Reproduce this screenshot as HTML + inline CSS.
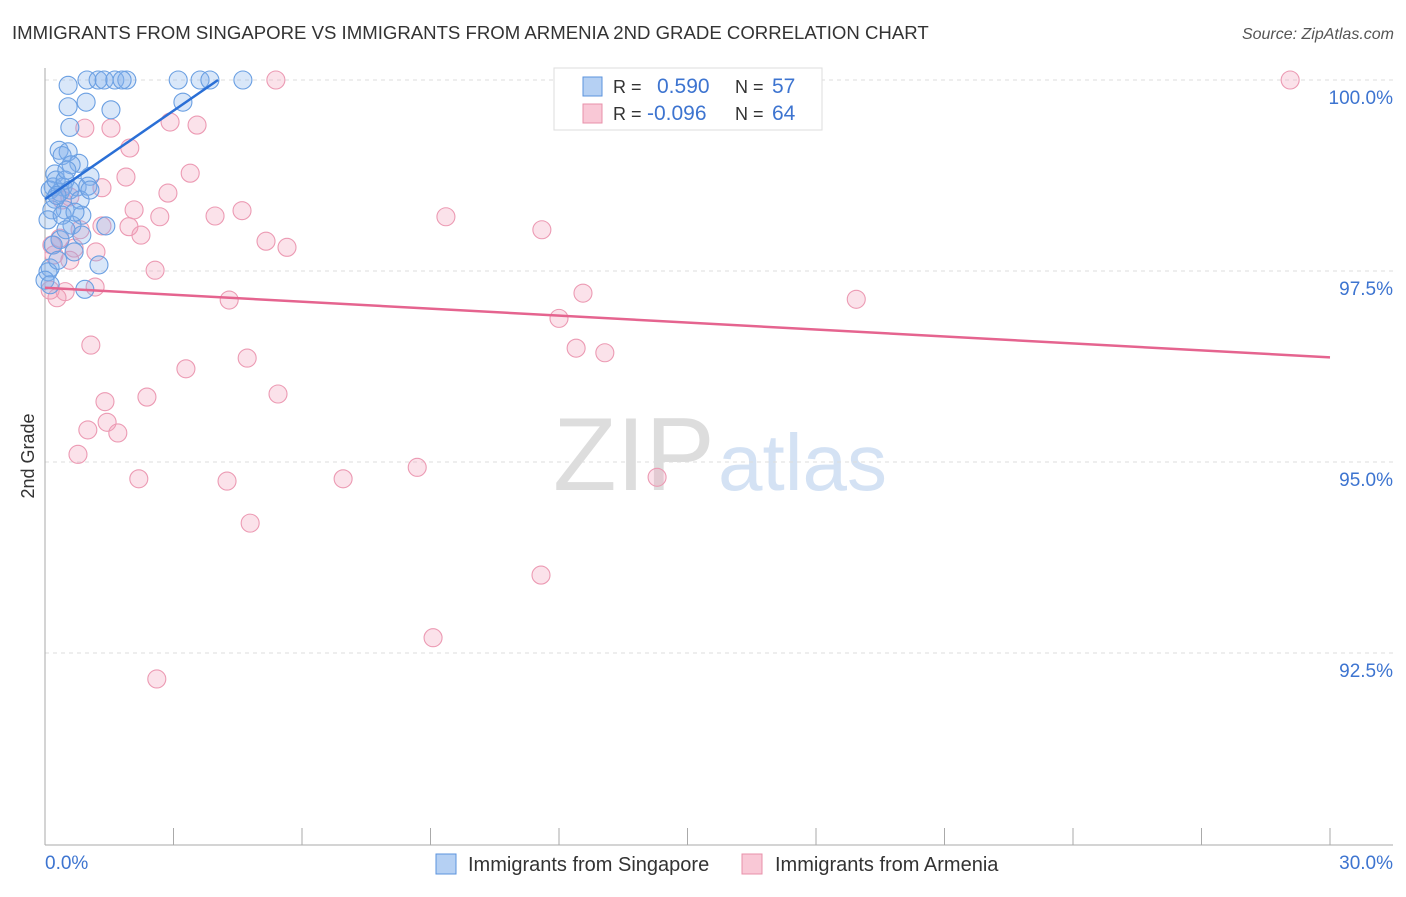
<!DOCTYPE html>
<html><head><meta charset="utf-8"><style>
body{margin:0;background:#fff;font-family:"Liberation Sans",sans-serif;}
svg text{font-family:"Liberation Sans",sans-serif;}
</style></head><body>
<svg id="chart" width="1406" height="892">
<text x="12" y="39" font-size="18.6" fill="#333">IMMIGRANTS FROM SINGAPORE VS IMMIGRANTS FROM ARMENIA 2ND GRADE CORRELATION CHART</text>
<text x="1394" y="39" font-size="16" fill="#555" font-style="italic" text-anchor="end">Source: ZipAtlas.com</text>
<g>
<text x="553" y="490" font-size="104" fill="#ddd" font-family="Liberation Serif,serif">ZIP</text>
<text x="718" y="490" font-size="80" fill="#d4e2f4">atlas</text>
</g>
<g id="grid"></g>
<g id="axes"></g>
<g id="marks"></g>
<text x="34" y="456" font-size="18" fill="#333" text-anchor="middle" transform="rotate(-90 34 456)">2nd Grade</text>
<text x="45" y="869" font-size="19" fill="#3d74d0">0.0%</text>
<text x="1393" y="869" font-size="19" fill="#3d74d0" text-anchor="end">30.0%</text>
<g>
<rect x="554" y="68" width="268" height="62" fill="#fff" stroke="#ddd"/>
<rect x="583" y="77" width="19" height="19" fill="#b5d0f3" stroke="#5b93de"/>
<rect x="583" y="104" width="19" height="19" fill="#f9c8d6" stroke="#e890aa"/>
<text x="613" y="93" font-size="18" fill="#333">R = </text><text x="657" y="93" font-size="21" fill="#3d74d0">0.590</text>
<text x="735" y="93" font-size="18" fill="#333">N = </text><text x="772" y="93" font-size="21" fill="#3d74d0">57</text>
<text x="613" y="120" font-size="18" fill="#333">R = </text><text x="647" y="120" font-size="21" fill="#3d74d0">-0.096</text>
<text x="735" y="120" font-size="18" fill="#333">N = </text><text x="772" y="120" font-size="21" fill="#3d74d0">64</text>
</g>
<g>
<rect x="436" y="854" width="20" height="20" fill="#b5d0f3" stroke="#5b93de"/>
<text x="468" y="871" font-size="20" fill="#333">Immigrants from Singapore</text>
<rect x="742" y="854" width="20" height="20" fill="#f9c8d6" stroke="#e890aa"/>
<text x="775" y="871" font-size="20" fill="#333">Immigrants from Armenia</text>
</g>
</svg>
<script>
const yTicks=[100,97.5,95,92.5];
const yTickLabels=["100.0%","97.5%","95.0%","92.5%"];
const xTicks=[0,3,6,9,12,15,18,21,24,27,30];
const singaporeX=[0.98,1.24,1.38,1.63,1.91,1.80,3.11,3.62,3.85,4.62,0.54,0.96,0.54,1.54,0.58,3.22,0.33,0.54,0.79,0.40,0.23,0.61,1.05,0.19,0.42,0.75,0.23,0.47,0.86,0.12,0.35,0.63,0.86,1.42,0.68,1.26,0.93,0.12,0.07,1.00,0.16,0.26,0.47,0.07,0.35,0.0,0.12,0.58,0.82,0.28,0.40,0.70,0.49,0.19,1.05,0.30,0.51];
const singaporeY=[100,100,100,100,100,100,100,100,100,100,99.93,99.71,99.65,99.61,99.38,99.71,99.08,99.06,98.91,99.01,98.77,98.89,98.74,98.60,98.60,98.60,98.44,98.30,98.23,98.56,98.53,98.10,97.97,98.09,97.75,97.58,97.26,97.54,97.49,98.61,98.30,98.69,98.69,98.17,97.91,97.38,97.32,98.56,98.43,98.49,98.23,98.27,98.04,97.84,98.56,97.64,98.82];
const armeniaX=[5.39,29.07,0.93,1.54,2.92,3.55,1.98,3.39,1.89,1.33,2.87,0.58,2.08,2.68,3.97,4.60,9.36,11.60,1.96,2.24,1.33,0.35,0.16,5.16,5.65,1.19,0.68,2.57,1.17,0.47,0.28,4.30,12.56,18.94,12.00,12.40,13.07,1.07,4.72,3.29,5.44,2.38,1.40,1.45,1.00,1.70,0.77,2.19,4.25,6.96,8.69,14.29,4.79,11.58,9.06,2.61,0.12,0.40,0.21,0.82,0.58];
const armeniaY=[100,100,99.37,99.37,99.45,99.41,99.11,98.78,98.73,98.59,98.52,98.47,98.30,98.21,98.22,98.29,98.21,98.04,98.08,97.97,98.09,97.93,97.84,97.89,97.81,97.75,97.80,97.51,97.29,97.23,97.15,97.12,97.21,97.13,96.88,96.49,96.43,96.53,96.36,96.22,95.89,95.85,95.79,95.52,95.42,95.38,95.10,94.78,94.75,94.78,94.93,94.80,94.20,93.52,92.70,92.16,97.25,98.43,97.71,98.04,97.64];
const singaporeTrend=[[0,98.44],[4.04,100]];
const armeniaTrend=[[0,97.28],[30,96.37]];
const NS="http://www.w3.org/2000/svg";
const xs=v=>45+v*(1285/30);
const ys=v=>80+(100-v)*76.4;
function mk(tag,attrs,parent){const e=document.createElementNS(NS,tag);for(const k in attrs)e.setAttribute(k,attrs[k]);parent.appendChild(e);return e;}
const grid=document.getElementById('grid'),axes=document.getElementById('axes'),marks=document.getElementById('marks');
yTicks.forEach((t,i)=>{
 const l=mk('line',{x1:45,x2:1393,y1:ys(t),y2:ys(t),stroke:'#ddd','stroke-dasharray':'4,4'},grid);
 
 
 const tx=mk('text',{x:1393,y:ys(t)+24,'font-size':19,fill:'#3d74d0','text-anchor':'end'},grid);
 tx.textContent=yTickLabels[i];
 
 
});
const ya=mk('line',{x1:45,x2:45,y1:68,y2:845,stroke:'#aaa'},axes);


const xa=mk('line',{x1:45,x2:1393,y1:845,y2:845,stroke:'#aaa'},axes);


xTicks.forEach(t=>{
 const l=mk('line',{x1:xs(t),x2:xs(t),y1:828,y2:845,stroke:'#aaa'},axes);
 
 
});
function dots(X,Y,fill,stroke,name){
 X.forEach((x,i)=>{
  const c=mk('circle',{cx:xs(x),cy:ys(Y[i]),r:9,fill:fill,stroke:stroke,'stroke-width':1.1},marks);
  
  
 });
}
dots(armeniaX,armeniaY,'rgba(242,160,186,0.3)','#ec9ab3','armenia-point');
dots(singaporeX,singaporeY,'rgba(130,175,235,0.3)','#6a9fe2','singapore-point');
const t1=mk('line',{x1:xs(singaporeTrend[0][0]),y1:ys(singaporeTrend[0][1]),x2:xs(singaporeTrend[1][0]),y2:ys(singaporeTrend[1][1]),stroke:'#2a6fd6','stroke-width':2.5},marks);


const t2=mk('line',{x1:xs(armeniaTrend[0][0]),y1:ys(armeniaTrend[0][1]),x2:xs(armeniaTrend[1][0]),y2:ys(armeniaTrend[1][1]),stroke:'#e5648f','stroke-width':2.5},marks);


</script>
</body></html>
